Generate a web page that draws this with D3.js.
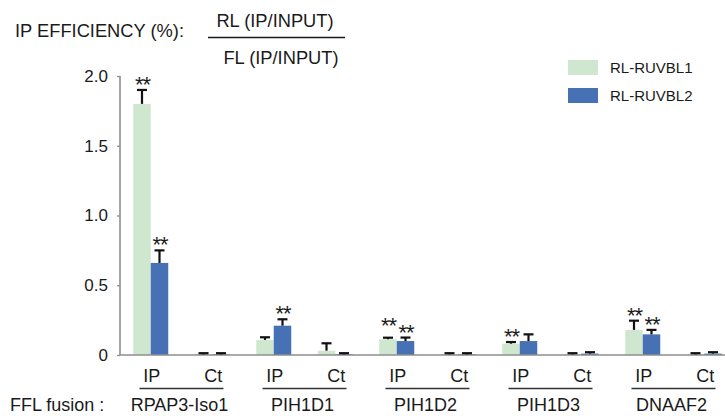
<!DOCTYPE html>
<html><head><meta charset="utf-8">
<script src="https://cdn.jsdelivr.net/npm/d3@7"></script>
<style>body{margin:0;background:#fff}svg{display:block}text{font-family:Arial,"Liberation Sans",sans-serif;fill:#1a1a1a}</style>
</head><body><svg id="c" width="725" height="416"></svg>
<script>
// ---- data ----
const genes = ["RPAP3-Iso1","PIH1D1","PIH1D2","PIH1D3","DNAAF2"];
const conditions = ["IP","Ct"];
const seriesNames = ["RL-RUVBL1","RL-RUVBL2"];
// values per gene, order: IP, Ct
const ruvbl1 = [1.80,0.005, 0.108,0.031, 0.113,0.005, 0.081,0.005, 0.180,0.005];
const ruvbl1Err = [0.10,0.008, 0.019,0.053, 0.011,0.008, 0.012,0.008, 0.066,0.008];
const ruvbl2 = [0.66,0.005, 0.210,0.005, 0.100,0.005, 0.100,0.010, 0.148,0.010];
const ruvbl2Err = [0.09,0.008, 0.046,0.008, 0.025,0.008, 0.048,0.010, 0.032,0.010];
const ruvbl1Sig = ["**","", "","", "**","", "**","", "**",""];
const ruvbl2Sig = ["**","", "**","", "**","", "","", "**",""];
const yTicks = [0,0.5,1.0,1.5,2.0];
const yTickLabels = ["0","0.5","1.0","1.5","2.0"];
const colors = ["#cfe7cf","#4671b5"];

const svg = d3.select("#c");
const cats = [];
genes.forEach(g => conditions.forEach(c => cats.push(g + "|" + c)));

const x = d3.scaleBand().domain(cats).range([120, 735]).paddingInner(0).paddingOuter(0);
const y = d3.scaleLinear().domain([0, 2.0]).range([355, 76]);
const barW = 17.5;

// title
svg.append("text").attr("x",15).attr("y",37).attr("font-size",18.3).text("IP EFFICIENCY (%):");
svg.append("text").attr("x",275).attr("y",27).attr("text-anchor","middle").attr("font-size",18.3).text("RL (IP/INPUT)");
svg.append("line").attr("x1",208).attr("x2",345).attr("y1",37.5).attr("y2",37.5).attr("stroke","#1a1a1a").attr("stroke-width",1.3);
svg.append("text").attr("x",281).attr("y",64).attr("text-anchor","middle").attr("font-size",18.3).text("FL (IP/INPUT)");

// y axis
const yAxis = d3.axisLeft(y).tickValues(yTicks).tickFormat((d,i)=>yTickLabels[i]).tickSize(3).tickPadding(9);
const ga = svg.append("g").attr("transform","translate(120,0)").call(yAxis);
ga.select(".domain").attr("stroke","#8e8e8e").attr("stroke-width",1.6).attr("d","M0,76V355");
ga.selectAll(".tick line").attr("stroke","#8e8e8e").attr("stroke-width",1.3);
ga.selectAll(".tick text").attr("font-size",17).attr("fill","#1a1a1a").style("font-family","Arial, 'Liberation Sans', sans-serif");

// bars
const series = [
  {vals: ruvbl1, err: ruvbl1Err, sig: ruvbl1Sig, off: -barW, color: colors[0]},
  {vals: ruvbl2, err: ruvbl2Err, sig: ruvbl2Sig, off: 0, color: colors[1]}
];
series.forEach(s => {
  const g = svg.append("g");
  cats.forEach((c,i) => {
    const cx = x(c) + x.bandwidth()/2;
    const bx = cx + s.off;
    g.append("rect").attr("x",bx).attr("y",y(s.vals[i])).attr("width",barW)
      .attr("height",y(0)-y(s.vals[i])).attr("fill",s.color);
  });
});
// x axis line
svg.append("line").attr("x1",120).attr("x2",725).attr("y1",355).attr("y2",355).attr("stroke","#8e8e8e").attr("stroke-width",1.6);
// error bars
series.forEach(s => {
  cats.forEach((c,i) => {
    const cx = x(c) + x.bandwidth()/2 + s.off + barW/2;
    const top = y(s.vals[i] + s.err[i]);
    svg.append("line").attr("x1",cx).attr("x2",cx).attr("y1",y(s.vals[i])).attr("y2",top)
      .attr("stroke","#111").attr("stroke-width",2.2);
    svg.append("line").attr("x1",cx-5).attr("x2",cx+5).attr("y1",top).attr("y2",top)
      .attr("stroke","#111").attr("stroke-width",2.2);
  });
});
// significance stars (raise the left one when both sit at the same height)
cats.forEach((c,i) => {
  const tops = series.map(s => y(s.vals[i] + s.err[i]));
  const ys = tops.map(t => t + 2);
  if (series[0].sig[i] && series[1].sig[i] && Math.abs(tops[0]-tops[1]) < 6) ys[0] = Math.min(ys[0], ys[1]) - 7;
  series.forEach((s,k) => {
    if (!s.sig[i]) return;
    const cx = x(c) + x.bandwidth()/2 + s.off + barW/2;
    svg.append("text").attr("x",cx+0.5).attr("y",ys[k]).attr("text-anchor","middle")
      .attr("font-size",22).attr("letter-spacing",-1).attr("fill","#2a2a2a").text(s.sig[i]);
  });
});

// x labels
cats.forEach(c => {
  const cx = x(c) + x.bandwidth()/2;
  svg.append("text").attr("x",cx+1).attr("y",382).attr("text-anchor","middle").attr("font-size",18).text(c.split("|")[1]);
});
genes.forEach(g => {
  const c1 = x(g+"|IP") + x.bandwidth()/2, c2 = x(g+"|Ct") + x.bandwidth()/2;
  const mid = (c1+c2)/2;
  svg.append("line").attr("x1",mid-42).attr("x2",mid+42).attr("y1",388.5).attr("y2",388.5).attr("stroke","#333").attr("stroke-width",1.4);
  svg.append("text").attr("x",mid-2).attr("y",411).attr("text-anchor","middle").attr("font-size",18).text(g);
});
svg.append("text").attr("x",10).attr("y",411).attr("font-size",18).text("FFL fusion :");

// legend
seriesNames.forEach((n,i) => {
  svg.append("rect").attr("x",568).attr("y",60+i*28).attr("width",30).attr("height",15).attr("fill",colors[i]);
  svg.append("text").attr("x",610).attr("y",73+i*28).attr("font-size",15).text(n);
});
</script></body></html>
